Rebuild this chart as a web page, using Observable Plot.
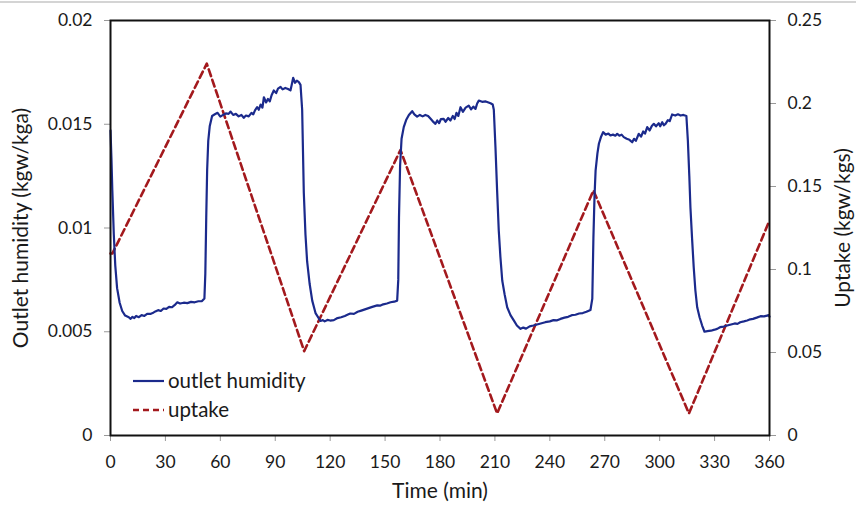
<!DOCTYPE html>
<html><head><meta charset="utf-8">
<script src="https://cdn.jsdelivr.net/npm/d3@7"></script>
<script src="https://cdn.jsdelivr.net/npm/@observablehq/plot@0.6"></script>
<style>
html,body{margin:0;padding:0;background:#fff;}
#wrap{position:relative;width:856px;height:506px;overflow:hidden;font-family:Lato,"Open Sans",sans-serif;}
#topline{position:absolute;left:0;top:1px;width:856px;height:2px;background:#d4d4d4;}
#legend{position:absolute;left:0;top:0;}
</style></head><body>
<div id="wrap"><div id="chart"></div><div id="topline"></div><svg id="legend" width="856" height="506"></svg></div>
<script>
const seriesNames = ["outlet humidity", "uptake"];
const seriesColors = ["#1b2a8c", "#a3191d"];
const axisTitles = {x: "Time (min)", yLeft: "Outlet humidity (kgw/kga)", yRight: "Uptake (kgw/kgs)"};

const timeHum = [0,0.5,1,1.8,2.6,3.6,5,6.4,8,10,11,12,13,14,15.5,17,18.5,20,21.8,23,24.5,26,27.5,29,30.5,32,33.5,35,36.5,38,40,42,44,46,48,50,51.3,51.8,52.3,52.8,53.4,54.2,55.5,57,58.5,60,61.5,63,64.5,65.6,67,68.5,70,71.5,72.8,74,75.5,77,78,79,80.1,81,82,83,83.8,85,86,87,88,89.2,90.5,91.5,92.9,94,95.5,97,98.3,99,99.8,100.8,101.8,102.9,103.8,104.7,105.6,106.5,107.4,108.8,110.2,112,114.7,116,117,118.5,120,122,124,126,128,130,131,133,135,137,139,141,143,145.7,147.5,149,151,153,155,156.6,157.2,157.6,158.2,159,160.2,161.5,163,164.8,166,167.5,169,170.5,172,173.5,175,176.5,177.5,178.5,179.5,180.5,182,183,184.5,185.7,187,188,189,190,191.2,192.5,194,195.7,197,198.2,199.4,200.3,201.2,203,205,207.6,208.8,209.4,210.3,211.2,212.1,213,214,215.3,216.7,218.5,220.3,222,224,225.5,227,229,231,233,235,237.5,240,242,244,245.8,248,250,252,254,256,258,260,262.2,263.2,263.8,264.4,265,266,266.8,268,269.1,270.5,272,273.1,274.5,275.8,276.8,278,279.2,280.4,282,283.5,285,286,287,288.6,289.8,291,292,293.2,294.5,295.7,296.8,298,299.5,300.3,301.4,302.3,303.2,304.5,305.5,306.8,308.5,310,311.4,313,314.6,315.4,316.2,316.8,317.7,318.6,319.5,320.5,321.8,323.2,324.5,326,328,330,331.4,333,335,336.9,339,341,342.5,344,346,347.8,349.5,351,353,355.1,357,358.7,359.5,360];
const humidity = [0.0147,0.0134,0.0118,0.0097,0.0082,0.0071,0.0064,0.006,0.00578,0.0057,0.00562,0.00572,0.00566,0.00576,0.0057,0.0058,0.00576,0.00586,0.00586,0.0059,0.00598,0.00604,0.006,0.00612,0.0061,0.0062,0.00618,0.00628,0.00642,0.00636,0.0064,0.00638,0.00644,0.00642,0.00647,0.00648,0.0066,0.0078,0.0105,0.0128,0.0142,0.0149,0.0154,0.01548,0.01555,0.01537,0.01545,0.01552,0.0155,0.01561,0.01545,0.0155,0.01538,0.01545,0.01531,0.01542,0.01538,0.01555,0.01548,0.01568,0.01582,0.0157,0.01595,0.0158,0.0163,0.01605,0.01622,0.0161,0.0164,0.01663,0.0165,0.01672,0.0168,0.01668,0.01675,0.0167,0.01663,0.0169,0.01724,0.017,0.0171,0.01703,0.0169,0.0157,0.0117,0.0097,0.0084,0.0073,0.0065,0.0059,0.00552,0.00556,0.0055,0.00557,0.00554,0.00556,0.00566,0.0057,0.00576,0.00584,0.00588,0.00586,0.00596,0.00602,0.00608,0.00614,0.0062,0.00627,0.00626,0.00632,0.00636,0.00642,0.00645,0.0065,0.0075,0.0105,0.013,0.0143,0.01486,0.0152,0.01545,0.01563,0.01548,0.01537,0.01545,0.01538,0.01545,0.0154,0.01525,0.0151,0.01502,0.01518,0.01505,0.01525,0.01526,0.01512,0.0153,0.01518,0.0154,0.01525,0.01555,0.0154,0.01582,0.0156,0.0158,0.0159,0.01572,0.01585,0.01574,0.016,0.01614,0.01608,0.0161,0.01601,0.01595,0.0157,0.01389,0.0118,0.00988,0.0086,0.00747,0.0068,0.00618,0.0058,0.00555,0.0053,0.00514,0.0052,0.00515,0.00526,0.0053,0.00535,0.0054,0.00546,0.0055,0.00556,0.00555,0.00562,0.00568,0.00572,0.0058,0.00582,0.00588,0.0059,0.00596,0.00605,0.0066,0.0095,0.0115,0.01277,0.0136,0.01406,0.0144,0.01462,0.0145,0.01455,0.01446,0.0145,0.01445,0.01454,0.01445,0.0145,0.01438,0.0143,0.01425,0.01413,0.0143,0.0142,0.01454,0.0144,0.01465,0.01455,0.01486,0.0147,0.01492,0.01502,0.0149,0.01505,0.0149,0.0151,0.01495,0.01502,0.0152,0.01515,0.01547,0.01542,0.01548,0.01542,0.01545,0.0154,0.01422,0.0125,0.011,0.0095,0.00811,0.007,0.00618,0.0057,0.0053,0.005,0.00503,0.00505,0.0051,0.00514,0.00522,0.00525,0.0053,0.00535,0.0054,0.00538,0.00546,0.0055,0.00554,0.0056,0.00562,0.00568,0.00575,0.00574,0.00578,0.0058,0.00573];

const timeUptake = [0, 1, 52.6, 105.8, 158.4, 211.2, 263.8, 316, 360];
const uptake = [0.1096, 0.1096, 0.224, 0.0508, 0.172, 0.0133, 0.1476, 0.0133, 0.1295];

const xTicks = [0,30,60,90,120,150,180,210,240,270,300,330,360];
const humTicks = [0,0.005,0.01,0.015,0.02];
const humTickLabels = ["0","0.005","0.01","0.015","0.02"];
const uptakeTicks = [0,0.05,0.1,0.15,0.2,0.25];
const uptakeTickLabels = ["0","0.05","0.1","0.15","0.2","0.25"];

const ratio = 0.02 / 0.25;
const humData = timeHum.map((t, i) => ({t, v: humidity[i]}));
const uptData = timeUptake.map((t, i) => ({t, v: uptake[i] * ratio}));
const font = "Lato, 'Open Sans', sans-serif";

const chart = Plot.plot({
  width: 856, height: 506,
  marginLeft: 110, marginRight: 87, marginTop: 20, marginBottom: 71,
  style: {fontFamily: font, fontSize: "17.5px", color: "#1a1a1a", background: "#fff", overflow: "visible"},
  x: {domain: [0, 360]},
  y: {domain: [0, 0.02]},
  marks: [
    Plot.axisX({ticks: xTicks, tickSize: 6, tickPadding: 14, stroke: "#999", tickFormat: d => String(d), label: null}),
    Plot.axisY({ticks: humTicks, tickSize: 6, tickPadding: 12, stroke: "#999",
      tickFormat: d => humTickLabels[humTicks.indexOf(d)], label: null}),
    Plot.axisY({anchor: "right", ticks: uptakeTicks.map(v => v * ratio), tickSize: 6, tickPadding: 12, stroke: "#999",
      tickFormat: d => uptakeTickLabels[Math.round(d / ratio / 0.05)], label: null}),
    Plot.text([axisTitles.x], {frameAnchor: "bottom", dy: 56, textAnchor: "middle", lineAnchor: "middle", fontSize: 21, fill: "#1a1a1a"}),
    Plot.text([axisTitles.yLeft], {frameAnchor: "left", dx: -89, rotate: -90, textAnchor: "middle", lineAnchor: "middle", fontSize: 21, fill: "#1a1a1a"}),
    Plot.text([axisTitles.yRight], {frameAnchor: "right", dx: 74, rotate: -90, textAnchor: "middle", lineAnchor: "middle", fontSize: 21, fill: "#1a1a1a"}),
    Plot.line(uptData, {x: "t", y: "v", stroke: seriesColors[1], strokeWidth: 2.6, strokeDasharray: "7,4"}),
    Plot.line(humData, {x: "t", y: "v", stroke: seriesColors[0], strokeWidth: 2.2}),
    Plot.frame({stroke: "#111", strokeWidth: 2})
  ]
});
document.getElementById("chart").appendChild(chart);

// legend (inside plot, lower-left)
const leg = d3.select("#legend");
const rows = [{y: 381, dash: null}, {y: 410, dash: "6,4"}];
rows.forEach((r, i) => {
  leg.append("line").attr("x1", 133).attr("x2", 164).attr("y1", r.y).attr("y2", r.y)
    .attr("stroke", seriesColors[i]).attr("stroke-width", i ? 2.6 : 2.2).attr("stroke-dasharray", r.dash);
  leg.append("text").attr("x", 168).attr("y", r.y).attr("dy", "0.35em")
    .attr("font-family", font).attr("font-size", 20.5).attr("fill", "#1a1a1a")
    .text(seriesNames[i]);
});
</script>
</body></html>
